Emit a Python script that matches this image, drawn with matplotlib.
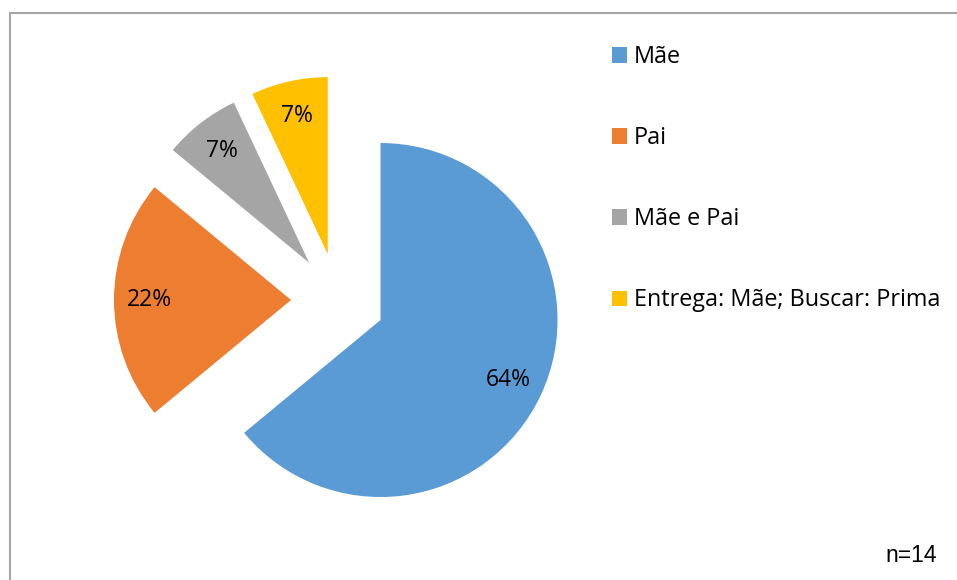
import matplotlib.pyplot as plt
from matplotlib.patches import Rectangle, Patch

# Data
labels = ['Mãe', 'Pai', 'Mãe e Pai', 'Entrega: Mãe; Buscar: Prima']
values = [64, 22, 7, 7]
colors = ['#5B9BD5', '#ED7D31', '#A5A5A5', '#FFC000']
note = 'n=14'

W, H = 957, 580
fig = plt.figure(figsize=(W / 100, H / 100), dpi=100)
ax = fig.add_axes([0, 0, 1, 1])

# explode is in data units here (1 unit = 1 px)
wedges, texts, autotexts = ax.pie(
    values, colors=colors, startangle=90, counterclock=False,
    explode=[47] * 4, radius=177, center=(338, H - 300),
    autopct='%1.0f%%', pctdistance=0.8,
    textprops={'fontsize': 16.5, 'family': 'Open Sans', 'color': 'black'},
    wedgeprops={'linewidth': 0})
ax.set_xlim(0, W)
ax.set_ylim(0, H)
ax.axis('off')

# chart area border (runs off the right and bottom edges)
fig.patches.append(Rectangle((9.5 / W, -0.1), 1.2, (H - 13) / H + 0.1,
                             transform=fig.transFigure, fill=False,
                             edgecolor='#A6A6A6', linewidth=1.5))

handles = [Patch(facecolor=c, edgecolor='none') for c in colors]
fig.legend(handles, labels, loc='upper left',
           bbox_to_anchor=(612 / W, 1 - 45 / H), frameon=False,
           prop={'family': 'Open Sans', 'size': 16.8},
           handlelength=0.65, handleheight=0.65, handletextpad=0.3,
           labelspacing=2.45, borderpad=0, borderaxespad=0)

fig.text(911 / W, 1 - 556 / H, note, ha='center', va='center',
         family='Liberation Sans', fontsize=16.5)

fig.savefig('out.png', dpi=100)
